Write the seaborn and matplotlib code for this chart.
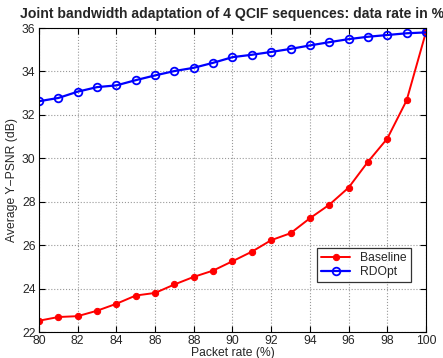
import matplotlib
matplotlib.use("Agg")
import matplotlib.pyplot as plt
import numpy as np
import pandas as pd
import seaborn as sns

packet_rate = list(range(80, 101))
baseline = [22.52, 22.69, 22.73, 22.98, 23.30, 23.68, 23.80, 24.19, 24.54, 24.83, 25.26,
            25.70, 26.23, 26.55, 27.24, 27.86, 28.65, 29.84, 30.91, 32.67, 35.82]
rdopt = [32.63, 32.78, 33.07, 33.28, 33.36, 33.60, 33.82, 34.02, 34.17, 34.40, 34.66,
         34.77, 34.90, 35.04, 35.20, 35.35, 35.49, 35.60, 35.68, 35.76, 35.80]

df = pd.DataFrame({
    "rate": packet_rate * 2,
    "psnr": baseline + rdopt,
    "scheme": ["Baseline"] * len(baseline) + ["RDOpt"] * len(rdopt),
})

sns.set_style("white")
plt.rcParams['font.family'] = ['Liberation Sans', 'DejaVu Sans']

fig = plt.figure(figsize=(4.43, 3.58), dpi=100)
ax = fig.add_axes([0.088, 0.0726, 0.8736, 0.849])

sns.lineplot(data=df[df.scheme == "Baseline"], x="rate", y="psnr", ax=ax,
             color="#ff0000", marker="o", markersize=4.5, markeredgecolor="#ff0000",
             linewidth=1.4, label="Baseline")
sns.lineplot(data=df[df.scheme == "RDOpt"], x="rate", y="psnr", ax=ax,
             color="#0000ff", marker="o", markersize=5.5, markerfacecolor="none",
             markeredgecolor="#0000ff", markeredgewidth=1.3, linewidth=1.6, label="RDOpt")

ax.set_xlim(80, 100)
ax.set_ylim(22, 36)
ax.set_xticks(np.arange(80, 101, 2))
ax.set_yticks(np.arange(22, 37, 2))
ax.grid(True, linestyle=":", color="#999999", linewidth=0.8)
ax.tick_params(direction="in", length=4, labelsize=8.7, top=True, right=True,
               bottom=True, left=True, color="black", pad=2.5)
for s in ax.spines.values():
    s.set_color("black")
    s.set_linewidth(0.8)

ax.set_title("Joint bandwidth adaptation of 4 QCIF sequences: data rate in %",
             fontsize=10.05, fontweight="bold", pad=7)
ax.set_xlabel("Packet rate (%)", fontsize=8.7, labelpad=0)
ax.set_ylabel("Average Y\u2212PSNR (dB)", fontsize=8.7, labelpad=3)

leg = ax.legend(loc="lower left", bbox_to_anchor=(0.718, 0.164), fontsize=8.7,
                frameon=True, fancybox=False, edgecolor="black", borderpad=0.35,
                handlelength=2.4, labelspacing=0.15, borderaxespad=0)
leg.get_frame().set_linewidth(0.9)

fig.savefig("out.png", dpi=100)
